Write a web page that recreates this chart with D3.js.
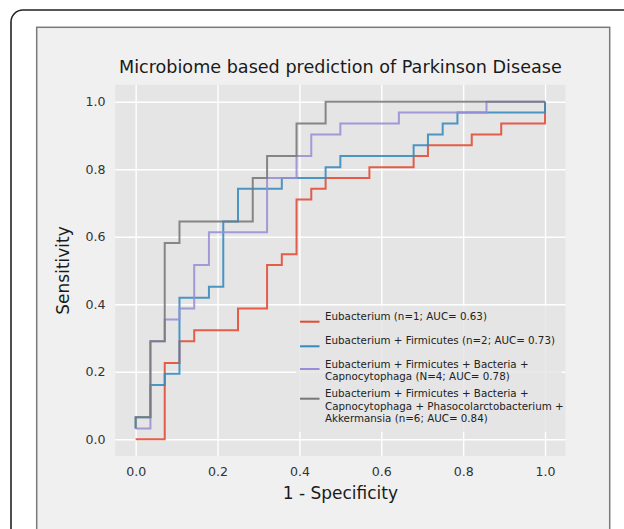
<!DOCTYPE html>
<html>
<head>
<meta charset="utf-8">
<script src="https://cdn.jsdelivr.net/npm/d3@7"></script>
<style>
  body { margin: 0; background: #fff; }
  svg { display: block; font-family: "DejaVu Sans", Verdana, sans-serif; }
</style>
</head>
<body>
<svg id="chart" width="624" height="529"></svg>
<script>
// ROC curves, each point = (fpr where the curve rises, new tpr), drawn as steps
const eubFpr = [0, 0.071, 0.107, 0.143, 0.25, 0.321, 0.357, 0.393, 0.429, 0.464, 0.571, 0.679, 0.714, 0.821, 0.893, 1];
const eubTpr = [0, 0.226, 0.29, 0.323, 0.387, 0.516, 0.548, 0.71, 0.742, 0.774, 0.806, 0.839, 0.871, 0.903, 0.935, 1];

const firFpr = [0, 0, 0.036, 0.071, 0.107, 0.179, 0.214, 0.25, 0.357, 0.464, 0.5, 0.679, 0.714, 0.75, 0.786, 1];
const firTpr = [0.032, 0.065, 0.161, 0.194, 0.419, 0.452, 0.645, 0.742, 0.774, 0.806, 0.839, 0.871, 0.903, 0.935, 0.968, 1];

const capFpr = [0, 0.036, 0.071, 0.107, 0.143, 0.179, 0.321, 0.393, 0.429, 0.5, 0.643, 0.857, 1];
const capTpr = [0.032, 0.29, 0.355, 0.387, 0.516, 0.613, 0.774, 0.839, 0.903, 0.935, 0.968, 1, 1];

const akkFpr = [0, 0, 0.036, 0.071, 0.107, 0.286, 0.321, 0.393, 0.464, 1];
const akkTpr = [0.032, 0.065, 0.29, 0.581, 0.645, 0.774, 0.839, 0.935, 1, 1];

const legendLabels = [
  ["Eubacterium (n=1; AUC= 0.63)"],
  ["Eubacterium + Firmicutes (n=2; AUC= 0.73)"],
  ["Eubacterium + Firmicutes + Bacteria +", "Capnocytophaga (N=4; AUC= 0.78)"],
  ["Eubacterium + Firmicutes + Bacteria +", "Capnocytophaga + Phasocolarctobacterium +", "Akkermansia (n=6; AUC= 0.84)"]
];
const tickValues = [0, 0.2, 0.4, 0.6, 0.8, 1.0];

const colors = ["#E24A33", "#348ABD", "#988ED5", "#777777"];
const curves = [
  d3.zip(eubFpr, eubTpr),
  d3.zip(firFpr, firTpr),
  d3.zip(capFpr, capTpr),
  d3.zip(akkFpr, akkTpr)
];

const svg = d3.select("#chart");

// outer frame + panel
svg.append("rect")
  .attr("x", 11).attr("y", 10).attr("width", 640).attr("height", 560)
  .attr("rx", 12).attr("fill", "#fff")
  .attr("stroke", "#222").attr("stroke-width", 1.6);
svg.append("rect")
  .attr("x", 36.7).attr("y", 27.3).attr("width", 573).attr("height", 540)
  .attr("fill", "#f0f0f0")
  .attr("stroke", "#7a7a7a").attr("stroke-width", 1.5);

// plot area
var pLeft = 115.2, pRight = 565.5, pTop = 84.8, pBottom = 456.1;

var x = d3.scaleLinear().domain([-0.05, 1.05]).range([pLeft, pRight]);
var y = d3.scaleLinear().domain([-0.05, 1.05]).range([pBottom, pTop]);

svg.append("rect")
  .attr("x", pLeft).attr("y", pTop)
  .attr("width", pRight - pLeft).attr("height", pBottom - pTop)
  .attr("fill", "#E5E5E5");

//gridlines and tick labels
var yAxis = svg.append("g")
  .attr("transform", "translate(" + pLeft + ",0)")
  .call(d3.axisLeft(y).tickValues(tickValues).tickFormat(d3.format(".1f"))
    .tickSize(-(pRight - pLeft)).tickPadding(9.7));
var xAxis = svg.append("g")
  .attr("transform", "translate(0," + pBottom + ")")
  .call(d3.axisBottom(x).tickValues(tickValues).tickFormat(d3.format(".1f"))
    .tickSize(-(pBottom - pTop)).tickPadding(11));

[xAxis, yAxis].forEach(function(a) {
  a.select(".domain").remove();
  a.selectAll(".tick line").attr("stroke", "#fff").attr("stroke-width", 1.4);
  a.selectAll(".tick text")
    .attr("fill", "#333")
    .style("font-size", "12.6px")
    .style("font-family", "DejaVu Sans");
});

// ROC step lines
var line = d3.line()
  .x(function(d) { return x(d[0]); })
  .y(function(d) { return y(d[1]); })
  .curve(d3.curveStepAfter);

curves.forEach(function(c, i) {
  svg.append("path")
    .datum(c)
    .attr("d", line)
    .attr("fill", "none")
    .attr("stroke", colors[i])
    .attr("stroke-width", 2)
    .attr("stroke-opacity", 0.88);
});

// legend
svg.append("rect")
  .attr("x", 296).attr("y", 306).attr("width", 266).attr("height", 126)
  .attr("fill", "#E5E5E5").attr("fill-opacity", 0.8);

var handleY = [321.7, 346.3, 369, 398.7];
var firstBase = [320, 344.3, 367.5, 396.7];
var legend = svg.append("g").style("font-size", "10.3px").attr("fill", "#222");

legendLabels.forEach(function(lines, i) {
  legend.append("line")
    .attr("x1", 300).attr("x2", 319.5)
    .attr("y1", handleY[i]).attr("y2", handleY[i])
    .attr("stroke", colors[i]).attr("stroke-width", 2);
  lines.forEach(function(t, j) {
    legend.append("text")
      .attr("x", 325)
      .attr("y", firstBase[i] + j * 12.8)
      .text(t);
  });
});

// titles
svg.append("text")
  .attr("x", (pLeft + pRight) / 2).attr("y", 73)
  .attr("text-anchor", "middle")
  .attr("fill", "#1a1a1a")
  .style("font-size", "17.6px")
  .text("Microbiome based prediction of Parkinson Disease");

svg.append("text")
  .attr("x", (pLeft + pRight) / 2).attr("y", 499)
  .attr("text-anchor", "middle")
  .attr("fill", "#1a1a1a")
  .style("font-size", "17px")
  .text("1 - Specificity");

svg.append("text")
  .attr("transform", "translate(69," + (pTop + pBottom) / 2 + ") rotate(-90)")
  .attr("text-anchor", "middle")
  .attr("fill", "#1a1a1a")
  .style("font-size", "17px")
  .text("Sensitivity");
</script>
</body>
</html>
